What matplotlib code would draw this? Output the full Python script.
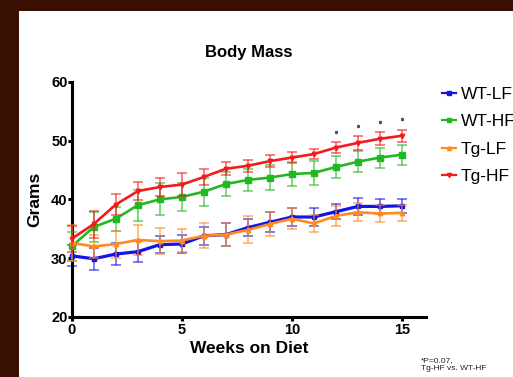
import numpy as np
import matplotlib
matplotlib.use('Agg')
import matplotlib.pyplot as plt
from matplotlib.patches import Rectangle
from matplotlib.lines import Line2D

plt.rcParams['font.family'] = ['Liberation Sans', 'DejaVu Sans']

weeks = list(range(16))
# WT-LF
wt_lf = [30.4, 29.9, 30.7, 31.1, 32.3, 32.4, 33.8, 34.0, 35.2, 36.1, 37.0, 37.0, 37.9, 38.8, 38.8, 38.9]
wt_lf_err = [1.8, 1.9, 1.8, 1.8, 1.5, 1.5, 1.5, 2.0, 1.5, 1.7, 1.5, 1.6, 1.3, 1.5, 1.3, 1.2]
# WT-HF
wt_hf = [32.0, 35.3, 36.7, 39.0, 40.0, 40.4, 41.3, 42.6, 43.3, 43.7, 44.3, 44.5, 45.5, 46.4, 47.1, 47.6]
wt_hf_err = [2.5, 2.6, 2.0, 2.6, 2.7, 2.4, 2.4, 2.1, 1.9, 2.1, 2.0, 2.0, 1.9, 1.8, 1.7, 1.7]
# Tg-LF
tg_lf = [32.6, 32.0, 32.4, 33.1, 32.9, 33.0, 33.8, 34.0, 34.8, 35.8, 36.7, 35.9, 37.2, 37.8, 37.6, 37.7]
tg_lf_err = [3.0, 2.0, 2.3, 2.5, 2.2, 2.0, 2.1, 2.0, 2.3, 2.0, 1.8, 1.5, 1.7, 1.5, 1.4, 1.3]
# Tg-HF
tg_hf = [33.3, 35.8, 39.1, 41.4, 42.1, 42.5, 43.8, 45.2, 45.7, 46.5, 47.1, 47.7, 48.8, 49.6, 50.3, 50.8]
tg_hf_err = [2.2, 2.3, 1.8, 1.5, 1.6, 2.0, 1.4, 1.1, 1.0, 1.0, 1.0, 0.9, 1.0, 1.2, 1.1, 1.0]

star_weeks = [12, 13, 14, 15]
star_y = [51.4, 52.5, 53.2, 53.6]

series = [
    ('WT-LF', wt_lf, wt_lf_err, '#1414e6', 's', 3.0, 2.3),
    ('WT-HF', wt_hf, wt_hf_err, '#22b822', 's', 4.2, 1.9),
    ('Tg-LF', tg_lf, tg_lf_err, '#ff8a1e', '^', 3.2, 1.9),
    ('Tg-HF', tg_hf, tg_hf_err, '#f51a1a', 'v', 3.2, 1.9),
]

fig = plt.figure(figsize=(5.13, 3.77), dpi=100)
fig.patch.set_facecolor('#3a1002')
fig.patches.append(Rectangle((19 / 513, 0), 1, (377 - 11) / 377, transform=fig.transFigure,
                             facecolor='white', edgecolor='none', zorder=-10))

ax = fig.add_axes([71.7 / 513, 60 / 377, 354.5 / 513, 235.3 / 377])
ax.set_facecolor('none')
ax.set_zorder(2)

handles = []
for i, (name, y, err, col, mk, ms, lw) in enumerate(series):
    ax.errorbar(weeks, y, yerr=err, fmt='none', ecolor=col, elinewidth=1.1,
                capsize=3.5, capthick=1.1, alpha=0.7, zorder=2 + i, clip_on=False)
    ax.plot(weeks, y, color=col, lw=lw, marker=mk, ms=ms, zorder=3 + i, clip_on=False)
    handles.append(Line2D([], [], color=col, lw=1.6, marker=mk, ms=3))

ax.scatter(star_weeks, star_y, marker=(6, 2, 0), s=4, color='#555555', linewidths=0.6, zorder=10)

ax.set_xlim(0, 16.1)
ax.set_ylim(20, 60)
ax.set_xticks([0, 5, 10, 15])
ax.set_yticks([20, 30, 40, 50, 60])
for s in ['top', 'right']:
    ax.spines[s].set_visible(False)
for s in ['left', 'bottom']:
    ax.spines[s].set_linewidth(2.2)
ax.tick_params(width=2.2, length=3, labelsize=10.5)
ax.tick_params(axis='y', pad=0)
ax.tick_params(axis='x', pad=1.5)
for lab in ax.get_xticklabels() + ax.get_yticklabels():
    lab.set_fontweight('bold')

ax.set_title('Body Mass', fontsize=12, fontweight='bold', pad=18)
ax.set_xlabel('Weeks on Diet', fontsize=12.5, fontweight='bold', labelpad=3)
ax.set_ylabel('Grams', fontsize=12.5, fontweight='bold', labelpad=6)

fig.legend(handles, [s[0] for s in series], loc='upper left',
           bbox_to_anchor=(442 / 513, (377 - 87) / 377), frameon=False,
           fontsize=12.5, handlelength=0.8, handletextpad=0.3, labelspacing=0.7,
           borderaxespad=0, borderpad=0)

fig.text(421 / 513, 12.5 / 377, '*P=0.07,\nTg-HF vs. WT-HF', fontsize=6,
         va='center', ha='left', color='#222222', linespacing=1.3)

fig.savefig('out.png', dpi=100, facecolor=fig.get_facecolor())
